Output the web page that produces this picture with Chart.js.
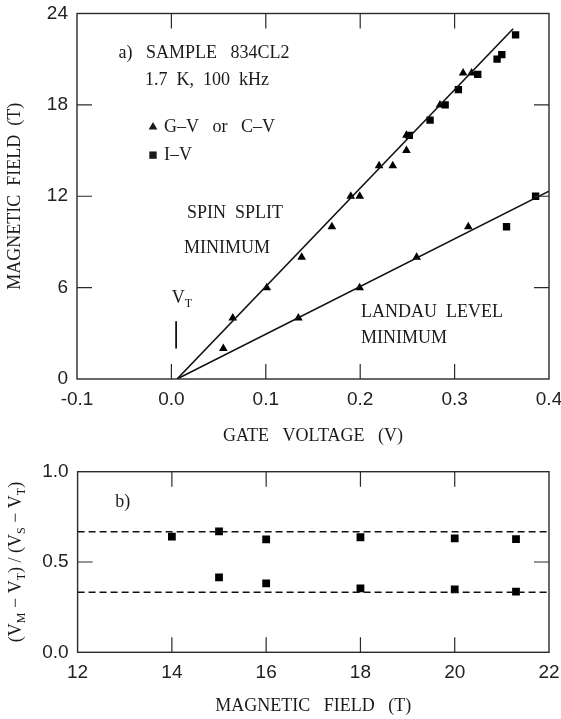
<!DOCTYPE html>
<html><head><meta charset="utf-8">
<script src="https://cdn.jsdelivr.net/npm/chart.js@4/dist/chart.umd.min.js"></script>
<style>
html,body{margin:0;padding:0;background:#fff;}
#wrap{position:relative;width:561px;height:719px;overflow:hidden;background:#fff;}
canvas{position:absolute;left:0;}
#c1{top:0;}
#c2{top:450px;}
</style></head><body>
<div id="wrap"><canvas id="c1" width="561" height="450"></canvas><canvas id="c2" width="561" height="269"></canvas></div>
<script>
// ---------- DATA (panel a) ----------
const gateTickLabels = [-0.1, 0.0, 0.1, 0.2, 0.3, 0.4];
const fieldTickLabels = [0, 6, 12, 18, 24];
const gateInnerTicks = [0.0, 0.1, 0.2, 0.3];
const fieldInnerTicks = [6, 12, 18];

const triV = [0.055, 0.065, 0.101, 0.138, 0.170, 0.190, 0.1995, 0.220, 0.2345, 0.249, 0.249, 0.2845, 0.309, 0.318, 0.1345, 0.1994, 0.2598, 0.3145];
const triB = [2.0, 4.0, 6.0, 8.0, 10.0, 12.0, 12.0, 14.0, 14.0, 15.0, 16.0, 18.0, 20.1, 20.1, 4.0, 6.0, 8.0, 10.0];

const sqV = [0.252, 0.274, 0.290, 0.304, 0.3245, 0.345, 0.350, 0.3646, 0.355, 0.3858];
const sqB = [16.0, 17.0, 18.0, 19.0, 20.0, 21.0, 21.3, 22.6, 10.0, 12.0];

const spinFitV = [0.006, 0.362];
const spinFitB = [0.0, 23.0];
const landauFitV = [0.006, 0.40];
const landauFitB = [0.0, 12.33];

const vtMarkV = [0.005, 0.005];
const vtMarkB = [2.0, 3.8];

// ---------- DATA (panel b) ----------
const bFieldTickLabels = [12, 14, 16, 18, 20, 22];
const ratioTickLabels = [0.0, 0.5, 1.0];
const bFieldInnerTicks = [14, 16, 18, 20];
const ratioInnerTicks = [0.5];

const upperField = [14, 15, 16, 18, 20, 21.3];
const upperRatio = [0.640, 0.670, 0.625, 0.637, 0.631, 0.627];
const lowerField = [15, 16, 18, 20, 21.3];
const lowerRatio = [0.415, 0.382, 0.354, 0.349, 0.336];
const guideField = [12, 22];
const guideHigh = [0.667, 0.667];
const guideLow = [0.333, 0.333];

// ---------- helpers ----------
const pts = (xs, ys) => xs.map((v, i) => ({x: v, y: ys[i]}));
const TICKFONT = {family: '"Liberation Sans", Arial, sans-serif', size: 19};
const SERIF = '"Liberation Serif", "Times New Roman", serif';
const INK = '#1a1a1a';

function drawRich(ctx, parts, x, y, align, size) {
  const big = size + 'px ' + SERIF, small = Math.round(size * 0.68) + 'px ' + SERIF;
  let total = 0;
  const w = parts.map(p => { ctx.font = p.sub ? small : big; const m = ctx.measureText(p.t).width; total += m; return m; });
  let cx = align === 'left' ? x : (align === 'right' ? x - total : x - total / 2);
  ctx.textAlign = 'left';
  ctx.textBaseline = 'middle';
  parts.forEach((p, i) => {
    ctx.font = p.sub ? small : big;
    ctx.fillText(p.t, cx, p.sub ? y + size * 0.32 : y);
    cx += w[i];
  });
}

function drawMarker(ctx, style, r, x, y) {
  ctx.beginPath();
  if (style === 'triangle') {
    let rad = 0;
    ctx.moveTo(x + Math.sin(rad) * r, y - Math.cos(rad) * r);
    rad += 2 * Math.PI / 3;
    ctx.lineTo(x + Math.sin(rad) * r, y - Math.cos(rad) * r);
    rad += 2 * Math.PI / 3;
    ctx.lineTo(x + Math.sin(rad) * r, y - Math.cos(rad) * r);
    ctx.closePath();
  } else {
    const s = Math.SQRT1_2 * r;
    ctx.rect(x - s, y - s, 2 * s, 2 * s);
  }
  ctx.fill();
}

const frameTicks = {
  id: 'frameTicks',
  afterDatasetsDraw(chart, args, opts) {
    const {ctx, chartArea: a, scales} = chart;
    ctx.save();
    ctx.strokeStyle = '#2a2a2a';
    ctx.lineWidth = 1.4;
    ctx.strokeRect(a.left, a.top, a.right - a.left, a.bottom - a.top);
    const L = 15;
    ctx.lineWidth = 1.2;
    ctx.beginPath();
    (opts.xTicks || []).forEach(v => {
      const px = scales.x.getPixelForValue(v);
      ctx.moveTo(px, a.bottom); ctx.lineTo(px, a.bottom - L);
      ctx.moveTo(px, a.top); ctx.lineTo(px, a.top + L);
    });
    (opts.yTicks || []).forEach(v => {
      const py = scales.y.getPixelForValue(v);
      ctx.moveTo(a.left, py); ctx.lineTo(a.left + L, py);
      ctx.moveTo(a.right, py); ctx.lineTo(a.right - L, py);
    });
    ctx.stroke();
    ctx.restore();
  }
};

const notes = {
  id: 'notes',
  afterDraw(chart, args, opts) {
    const {ctx, scales: {x, y}, chartArea: a} = chart;
    ctx.save();
    ctx.fillStyle = INK;
    (opts.items || []).forEach(it => {
      drawRich(ctx, it.parts, x.getPixelForValue(it.x), y.getPixelForValue(it.y), it.align || 'center', it.size || 18);
    });
    (opts.markers || []).forEach(m => {
      drawMarker(ctx, m.style, m.r, x.getPixelForValue(m.x), y.getPixelForValue(m.y));
    });
    if (opts.yTitle) {
      ctx.translate(opts.yTitle.px, (a.top + a.bottom) / 2);
      ctx.rotate(-Math.PI / 2);
      drawRich(ctx, opts.yTitle.parts, 0, 0, 'center', opts.yTitle.size);
    }
    ctx.restore();
  }
};

function fixX(h) { return s => { s.height = h; s.paddingLeft = 0; s.paddingRight = 0; }; }
function fixY(w) { return s => { s.width = w; s.paddingTop = 0; s.paddingBottom = 0; }; }

// ---------- panel a ----------
new Chart(document.getElementById('c1'), {
  type: 'scatter',
  data: {
    datasets: [
      {label: 'spin fit', data: pts(spinFitV, spinFitB), showLine: true, pointRadius: 0, borderColor: '#111', borderWidth: 1.6, fill: false},
      {label: 'landau fit', data: pts(landauFitV, landauFitB), showLine: true, pointRadius: 0, borderColor: '#111', borderWidth: 1.6, fill: false},
      {label: 'VT', data: pts(vtMarkV, vtMarkB), showLine: true, pointRadius: 0, borderColor: '#111', borderWidth: 1.8, fill: false},
      {label: 'G–V or C–V', data: pts(triV, triB), pointStyle: 'triangle', pointRadius: 5, backgroundColor: '#000', borderColor: '#000', borderWidth: 0},
      {label: 'I–V', data: pts(sqV, sqB), pointStyle: 'rect', pointRadius: 5.2, backgroundColor: '#000', borderColor: '#000', borderWidth: 0}
    ]
  },
  options: {
    responsive: false, animation: false, devicePixelRatio: 1,
    layout: {padding: {left: 0, right: 12, top: 13.5, bottom: 0}},
    plugins: {
      legend: {display: false}, tooltip: {enabled: false},
      frameTicks: {xTicks: gateInnerTicks, yTicks: fieldInnerTicks},
      notes: {
        items: [
          {parts: [{t: 'a)   SAMPLE   834CL2'}], x: 0.0345, y: 21.4},
          {parts: [{t: '1.7  K,  100  kHz'}], x: 0.0377, y: 19.6},
          {parts: [{t: 'G–V   or   C–V'}], x: -0.0078, y: 16.55, align: 'left'},
          {parts: [{t: 'I–V'}], x: -0.0078, y: 14.7, align: 'left'},
          {parts: [{t: 'SPIN  SPLIT'}], x: 0.0674, y: 10.9},
          {parts: [{t: 'MINIMUM'}], x: 0.0589, y: 8.6},
          {parts: [{t: 'LANDAU  LEVEL'}], x: 0.2008, y: 4.4, align: 'left'},
          {parts: [{t: 'MINIMUM'}], x: 0.2008, y: 2.7, align: 'left'},
          {parts: [{t: 'V'}, {t: 'T', sub: true}], x: 0.0005, y: 5.3, align: 'left'}
        ],
        markers: [
          {style: 'triangle', r: 5, x: -0.0195, y: 16.55},
          {style: 'rect', r: 5.2, x: -0.0195, y: 14.7}
        ]
      }
    },
    scales: {
      x: {
        type: 'linear', position: 'bottom', min: -0.1, max: 0.4,
        afterBuildTicks: s => { s.ticks = gateTickLabels.map(v => ({value: v})); },
        afterFit: fixX(71),
        grid: {display: false, drawTicks: false},
        border: {display: false},
        ticks: {font: TICKFONT, color: '#222', padding: 9, maxRotation: 0, autoSkip: false, callback: v => v.toFixed(1)},
        title: {display: true, text: 'GATE   VOLTAGE   (V)', color: INK, font: {family: SERIF, size: 18}, padding: {top: 0, bottom: 3}}
      },
      y: {
        type: 'linear', position: 'left', min: 0, max: 24,
        afterBuildTicks: s => { s.ticks = fieldTickLabels.map(v => ({value: v})); },
        afterFit: fixY(77),
        grid: {display: false, drawTicks: false},
        border: {display: false},
        ticks: {font: TICKFONT, color: '#222', padding: 9, autoSkip: false, callback: v => String(v)},
        title: {display: true, text: 'MAGNETIC  FIELD  (T)', color: INK, font: {family: SERIF, size: 18}, padding: {top: 4, bottom: 0}}
      }
    }
  },
  plugins: [frameTicks, notes]
});

// ---------- panel b ----------
new Chart(document.getElementById('c2'), {
  type: 'scatter',
  data: {
    datasets: [
      {label: 'upper guide', data: pts(guideField, guideHigh), showLine: true, pointRadius: 0, borderColor: '#111', borderWidth: 1.5, borderDash: [7, 4]},
      {label: 'lower guide', data: pts(guideField, guideLow), showLine: true, pointRadius: 0, borderColor: '#111', borderWidth: 1.5, borderDash: [7, 4]},
      {label: 'spin', data: pts(upperField, upperRatio), pointStyle: 'rect', pointRadius: 5.5, backgroundColor: '#000', borderWidth: 0},
      {label: 'landau', data: pts(lowerField, lowerRatio), pointStyle: 'rect', pointRadius: 5.5, backgroundColor: '#000', borderWidth: 0}
    ]
  },
  options: {
    responsive: false, animation: false, devicePixelRatio: 1,
    layout: {padding: {left: 0, right: 12, top: 21.7, bottom: 0}},
    plugins: {
      legend: {display: false}, tooltip: {enabled: false},
      frameTicks: {xTicks: bFieldInnerTicks, yTicks: ratioInnerTicks},
      notes: {
        items: [
          {parts: [{t: 'b)'}], x: 12.96, y: 0.832}
        ],
        yTitle: {px: 16, size: 18, parts: [
          {t: '(V'}, {t: 'M', sub: true}, {t: ' − V'}, {t: 'T', sub: true}, {t: ') / (V'}, {t: 'S', sub: true}, {t: ' − V'}, {t: 'T', sub: true}, {t: ')'}
        ]}
      }
    },
    scales: {
      x: {
        type: 'linear', position: 'bottom', min: 12, max: 22,
        afterBuildTicks: s => { s.ticks = bFieldTickLabels.map(v => ({value: v})); },
        afterFit: fixX(66.7),
        grid: {display: false, drawTicks: false},
        border: {display: false},
        ticks: {font: TICKFONT, color: '#222', padding: 9, maxRotation: 0, autoSkip: false, callback: v => String(v)},
        title: {display: true, text: 'MAGNETIC   FIELD   (T)', color: INK, font: {family: SERIF, size: 18}, padding: {top: 0, bottom: 2}}
      },
      y: {
        type: 'linear', position: 'left', min: 0, max: 1,
        afterBuildTicks: s => { s.ticks = ratioTickLabels.map(v => ({value: v})); },
        afterFit: fixY(77.6),
        grid: {display: false, drawTicks: false},
        border: {display: false},
        ticks: {font: TICKFONT, color: '#222', padding: 9, autoSkip: false, callback: v => v.toFixed(1)},
        title: {display: false}
      }
    }
  },
  plugins: [frameTicks, notes]
});
</script>
</body></html>
